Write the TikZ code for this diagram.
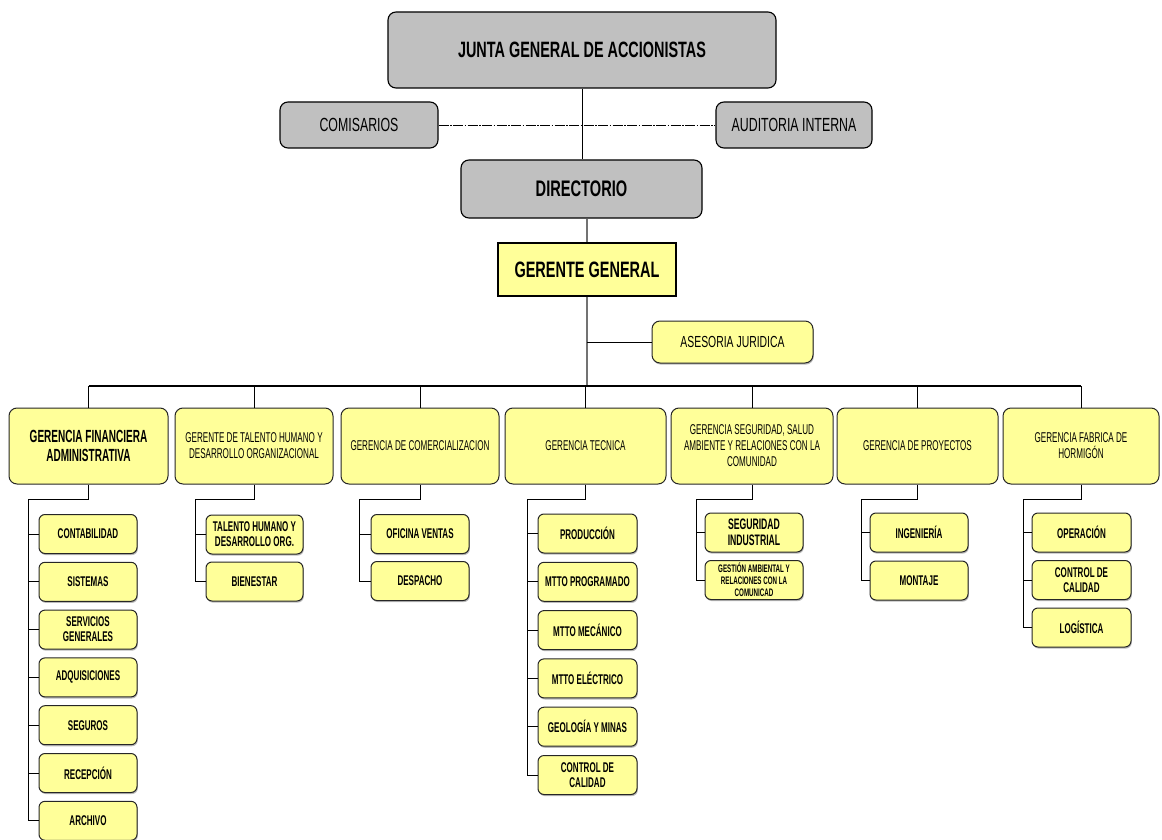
\documentclass[tikz,border=0pt]{standalone}
\usepackage{fontspec}
\setmainfont{Liberation Sans}[FakeStretch=0.57]
\newfontfamily\topfont{Liberation Sans}[FakeStretch=0.65]
\usetikzlibrary{shadows}
\definecolor{boxgray}{HTML}{C0C0C0}
\definecolor{boxyellow}{HTML}{FFFF99}
\tikzset{
  topbox/.style={draw=black, line width=1.1pt, fill=boxgray, rounded corners=8pt, align=center, inner sep=2pt},
  ggbox/.style={draw=black, line width=1.3pt, fill=boxyellow, align=center, inner sep=2pt},
  midbox/.style={draw=black!85, line width=1pt, fill=boxyellow, rounded corners=8pt, align=center, inner sep=2pt, minimum width=158pt, minimum height=76pt, font=\fontsize{14.2}{16}\selectfont},
  kid/.style={draw=black!85, line width=1pt, fill=boxyellow, rounded corners=6pt, align=center, inner sep=1pt, minimum width=98pt, minimum height=39pt, font=\bfseries\fontsize{14.1}{15}\selectfont, drop shadow={shadow xshift=0.8pt, shadow yshift=-1.6pt, fill=black!45, opacity=0.6}},
  conn/.style={draw=black, line width=0.9pt},
  gconn/.style={draw=black!55, line width=1.2pt},
  busline/.style={draw=black, line width=1.8pt},
  dashdot/.style={draw=black, line width=0.9pt, dash pattern=on 10pt off 1.5pt on 1.5pt off 1.5pt}
}
\begin{document}
\begin{tikzpicture}[x=1pt,y=-1pt]
\useasboundingbox (0,0) rectangle (1162,840);

% top
\node[topbox, minimum width=388pt, minimum height=76pt, font=\topfont\bfseries\fontsize{22.2}{26}\selectfont] (junta) at (582,50) {JUNTA GENERAL DE ACCIONISTAS};
\node[topbox, minimum width=158pt, minimum height=46pt, font=\topfont\fontsize{19}{22}\selectfont] (com) at (359,125) {COMISARIOS};
\node[topbox, minimum width=156pt, minimum height=46pt, font=\topfont\fontsize{19}{22}\selectfont] (aud) at (794,125) {AUDITORIA INTERNA};
\node[topbox, minimum width=241pt, minimum height=58pt, font=\topfont\bfseries\fontsize{22.5}{26}\selectfont] (dir) at (581.5,189) {DIRECTORIO};
\node[ggbox, minimum width=178pt, minimum height=53pt, font=\topfont\bfseries\fontsize{22.3}{26}\selectfont] (gg) at (587,269.5) {GERENTE GENERAL};
\node[kid, drop shadow={opacity=0}, minimum width=161pt, minimum height=42pt, rounded corners=8pt, font=\topfont\fontsize{16}{20}\selectfont] (ase) at (732.5,342) {ASESORIA JURIDICA};

\draw[dashdot] (com.east) -- (aud.west);
\draw[conn] (junta.south) -- (dir.north -| junta.south);
\draw[gconn] (gg.north |- dir.south) -- (gg.north);
\draw[gconn] (gg.south) -- (gg.south |- 0,386);
\draw[conn] (ase.west) -- (ase.west -| gg.south);

% second level
\node[midbox, minimum width=159pt, font=\bfseries\fontsize{17.6}{18.5}\selectfont] (gf) at (88.5,446) {GERENCIA FINANCIERA\\ADMINISTRATIVA};
\node[midbox] (gt) at (254,446) {GERENTE DE TALENTO HUMANO Y\\DESARROLLO ORGANIZACIONAL};
\node[midbox] (gc) at (420,446) {GERENCIA DE COMERCIALIZACION};
\node[midbox, minimum width=161pt] (gte) at (585.5,446) {GERENCIA TECNICA};
\node[midbox, minimum width=162pt] (gs) at (752,446) {GERENCIA SEGURIDAD, SALUD\\AMBIENTE Y RELACIONES CON LA\\COMUNIDAD};
\node[midbox, minimum width=161pt] (gp) at (917.5,446) {GERENCIA DE PROYECTOS};
\node[midbox, minimum width=156pt] (gfh) at (1081,446) {GERENCIA FABRICA DE\\HORMIGÓN};

\coordinate (bus) at (0,386);
\draw[busline] (gf.north |- bus) -- (gfh.north |- bus);
\foreach \n in {gf,gt,gc,gte,gs,gp,gfh} {\draw[conn] (\n.north) -- (\n.north |- bus);}

% children: GF
\coordinate (gfT) at (28,499);
\foreach \t [count=\i] in {CONTABILIDAD, SISTEMAS, {SERVICIOS\\GENERALES}, ADQUISICIONES, SEGUROS, RECEPCIÓN, ARCHIVO} {
  \node[kid] (gf\i) at (88,{534+(\i-1)*47.8}) {\t};
  \draw[conn] (gfT |- gf\i) -- (gf\i.west);
}
\draw[conn] (gf.south) |- (gfT) -- (gfT |- gf7);

% GT
\coordinate (gtT) at (195,499);
\node[kid, minimum width=97pt] (gt1) at (254.5,534.5) {TALENTO HUMANO Y\\DESARROLLO ORG.};
\node[kid, minimum width=97pt] (gt2) at (254.5,581.5) {BIENESTAR};
\draw[conn] (gt.south) |- (gtT) -- (gtT |- gt2) -- (gt2.west);
\draw[conn] (gtT |- gt1) -- (gt1.west);

% GC
\coordinate (gcT) at (359,499);
\node[kid] (gc1) at (420,534) {OFICINA VENTAS};
\node[kid] (gc2) at (420,581) {DESPACHO};
\draw[conn] (gc.south) |- (gcT) -- (gcT |- gc2) -- (gc2.west);
\draw[conn] (gcT |- gc1) -- (gc1.west);

% GTec
\coordinate (gteT) at (527,499);
\foreach \t [count=\i] in {PRODUCCIÓN, MTTO PROGRAMADO, MTTO MECÁNICO, MTTO ELÉCTRICO, GEOLOGÍA Y MINAS, {CONTROL DE\\CALIDAD}} {
  \node[kid, minimum width=99pt] (gte\i) at (587.5,{533.5+(\i-1)*48.3}) {\t};
  \draw[conn] (gteT |- gte\i) -- (gte\i.west);
}
\draw[conn] (gte.south) |- (gteT) -- (gteT |- gte6);

% GS
\coordinate (gsT) at (696,499);
\node[kid, font=\bfseries\fontsize{15.2}{16}\selectfont] (gs1) at (754,532.5) {SEGURIDAD\\INDUSTRIAL};
\node[kid, font=\bfseries\fontsize{10.9}{12}\selectfont] (gs2) at (754,580) {GESTIÓN AMBIENTAL Y\\RELACIONES CON LA\\COMUNICAD};
\draw[conn] (gs.south) |- (gsT) -- (gsT |- gs2) -- (gs2.west);
\draw[conn] (gsT |- gs1) -- (gs1.west);

% GP
\coordinate (gpT) at (861,499);
\node[kid] (gp1) at (919,532.5) {INGENIERÍA};
\node[kid] (gp2) at (919,580.5) {MONTAJE};
\draw[conn] (gp.south) |- (gpT) -- (gpT |- gp2) -- (gp2.west);
\draw[conn] (gpT |- gp1) -- (gp1.west);

% GFH
\coordinate (gfhT) at (1023,499);
\foreach \t [count=\i] in {OPERACIÓN, {CONTROL DE\\CALIDAD}, LOGÍSTICA} {
  \node[kid, minimum width=99pt] (gfh\i) at (1081.5,{532.5+(\i-1)*47.5}) {\t};
  \draw[conn] (gfhT |- gfh\i) -- (gfh\i.west);
}
\draw[conn] (gfh.south) |- (gfhT) -- (gfhT |- gfh3);
\end{tikzpicture}
\end{document}
